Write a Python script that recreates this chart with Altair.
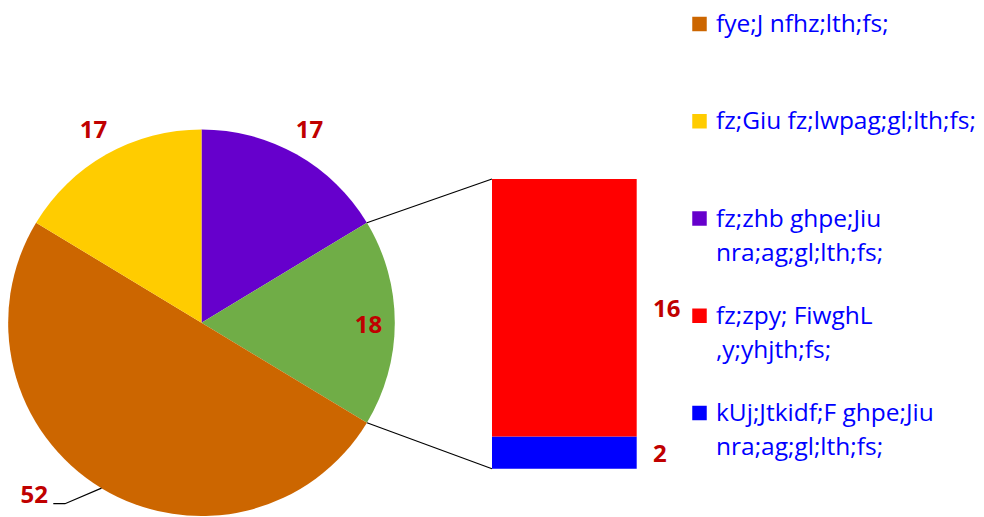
import math
import altair as alt
import pandas as pd

# ---------------- data ----------------
# Pie slices, clockwise from 12 o'clock
pie_keys = ["purple", "other", "orange", "yellow"]
pie_values = [17, 18, 52, 17]
pie_colors = ["#6600CC", "#70AD47", "#CC6600", "#FFCC00"]

# Breakdown bar of the "other" slice, bottom to top
bar_keys = ["blue", "red"]
bar_values = [2, 16]
bar_colors = ["#0000FF", "#FF0000"]

# Legend entries
legend_keys = ["orange", "yellow", "purple", "red", "blue"]
legend_texts = [
    "fye;J nfhz;lth;fs;",
    "fz;Giu fz;lwpag;gl;lth;fs;",
    "fz;zhb ghpe;Jiu\nnra;ag;gl;lth;fs;",
    "fz;zpy; FiwghL\n,y;yhjth;fs;",
    "kUj;Jtkidf;F ghpe;Jiu\nnra;ag;gl;lth;fs;",
]

# ---------------- layout ----------------
W, H = 968, 509
CX, CY, R = 193.5, 314.7, 193.3
BAR_X0, BAR_X1 = 484, 628.7
BAR_TOP, BAR_BOT = 171, 460.7
LEG_SQ_X, LEG_TX_X = 691.5, 708
LEG_Y0, LEG_Y1 = 16, 405
FONT = "Open Sans"
LABEL_COLOR = "#C00000"

pie_df = pd.DataFrame({"key": pie_keys, "v": pie_values, "i": range(len(pie_keys))})
bar_df = pd.DataFrame({"key": bar_keys, "v": bar_values, "i": range(len(bar_keys))})
leg_df = pd.DataFrame({"key": legend_keys, "label": legend_texts})

color_enc = alt.Color(
    "key:N",
    scale=alt.Scale(domain=pie_keys + bar_keys, range=pie_colors + bar_colors),
    legend=None,
)
theta_enc = alt.Theta("v:Q", stack=True)

pie = alt.Chart(pie_df).mark_arc(radius=R).encode(
    theta=theta_enc, order=alt.Order("i:Q"), color=color_enc,
    x=alt.value(CX), y=alt.value(CY),
)


def pie_text(cond, radius, **kw):
    return (
        alt.Chart(pie_df)
        .transform_calculate(t=f"({cond}) ? format(datum.v, 'd') : ''")
        .mark_text(radius=radius, font=FONT, fontSize=24, fontWeight="bold",
                   color=LABEL_COLOR, **kw)
        .encode(theta=theta_enc, order=alt.Order("i:Q"), text="t:N",
                x=alt.value(CX), y=alt.value(CY))
    )


lbl_out = pie_text("datum.i == 0 || datum.i == 3", 220, baseline="middle")
lbl_in = pie_text("datum.i == 1", 167, baseline="middle", dy=3)
lbl_big = pie_text("datum.i == 2", 202, baseline="middle", align="right", dx=-49)

# bar of the split slice (stacked through a window transform)
ybar = alt.Scale(domain=[0, sum(bar_values)], range=[BAR_BOT, BAR_TOP])
bar_base = (
    alt.Chart(bar_df)
    .transform_window(cum="sum(v)", sort=[alt.SortField("i")])
    .transform_calculate(start="datum.cum - datum.v", mid="datum.cum - datum.v / 2")
)
bar = bar_base.mark_rect().encode(
    x=alt.value(BAR_X0), x2=alt.value(BAR_X1),
    y=alt.Y("start:Q", scale=ybar, axis=None), y2="cum:Q",
    color=color_enc,
)
bar_lbl = bar_base.mark_text(
    font=FONT, fontSize=24, fontWeight="bold", color=LABEL_COLOR,
    align="left", baseline="middle", dy=2,
).encode(x=alt.value(645), y=alt.Y("mid:Q", scale=ybar, axis=None), text="v:Q")

# connector lines (green slice edges -> bar corners)
total = sum(pie_values)
a0 = sum(pie_values[:1]) / total * 2 * math.pi
a1 = sum(pie_values[:2]) / total * 2 * math.pi
conn_df = pd.DataFrame({
    "x": [CX + R * math.sin(a0), CX + R * math.sin(a1)],
    "y": [CY - R * math.cos(a0), CY - R * math.cos(a1)],
    "x2": [BAR_X0, BAR_X0],
    "y2": [BAR_TOP, BAR_BOT],
})
conn = alt.Chart(conn_df).mark_rule(color="black", strokeWidth=1.2).encode(
    x=alt.X("x:Q", scale=None, axis=None), y=alt.Y("y:Q", scale=None, axis=None),
    x2="x2:Q", y2="y2:Q",
)

# leader line for the large slice label
am = (sum(pie_values[:2]) + pie_values[2] / 2) / total * 2 * math.pi
ex, ey = CX + R * math.sin(am), CY - R * math.cos(am)
lead_df = pd.DataFrame({
    "x": [ex, 57, 45.3],
    "y": [ey, 495.7, 495.7],
    "k": [0, 1, 2],
})
lead = alt.Chart(lead_df).mark_line(color="black", strokeWidth=1.2).encode(
    x=alt.X("x:Q", scale=None, axis=None), y=alt.Y("y:Q", scale=None, axis=None),
    order="k:Q",
)

# legend
yleg = alt.Scale(type="point", domain=legend_keys, range=[LEG_Y0, LEG_Y1], padding=0)
leg_sq = alt.Chart(leg_df).mark_square(size=210, opacity=1).encode(
    x=alt.value(LEG_SQ_X), y=alt.Y("key:N", scale=yleg, axis=None), color=color_enc,
)
leg_tx = alt.Chart(leg_df).mark_text(
    align="left", baseline="alphabetic", dy=8, lineBreak="\n", lineHeight=34,
    font=FONT, fontSize=24.5, color="#0000FF",
).encode(x=alt.value(LEG_TX_X), y=alt.Y("key:N", scale=yleg, axis=None), text="label:N")

chart = (
    alt.layer(pie, lbl_out, lbl_in, lbl_big, conn, lead, bar, bar_lbl, leg_sq, leg_tx)
    .resolve_scale(x="independent", y="independent")
    .properties(width=W, height=H, autosize=alt.AutoSizeParams(type="none"), padding=0)
    .configure_view(stroke=None)
)

chart.save("out.html", embed_options={"renderer": "svg", "actions": False})
